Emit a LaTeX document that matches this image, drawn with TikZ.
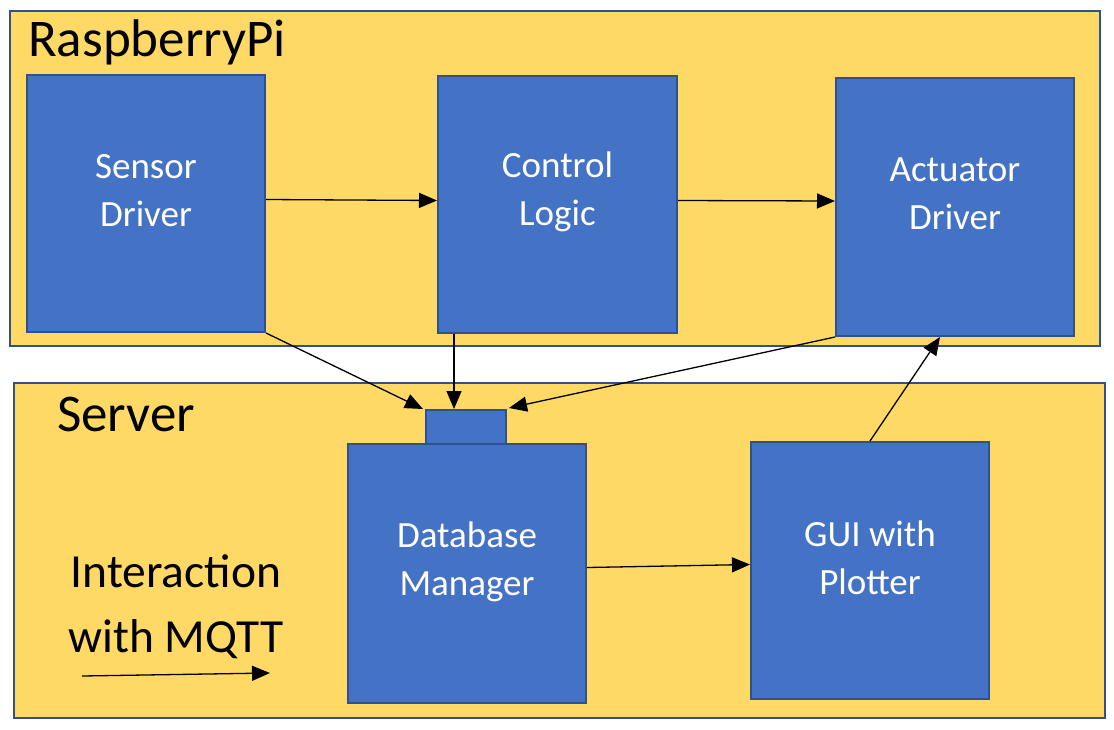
\documentclass[tikz,border=0pt]{standalone}
\usepackage{fontspec}
\setmainfont{Carlito}
\usetikzlibrary{arrows.meta,calc}
\definecolor{frame}{HTML}{2F528F}
\definecolor{gold}{HTML}{FFD966}
\definecolor{blu}{HTML}{4472C4}
\tikzset{
  area/.style={draw=frame, fill=gold, line width=2pt, inner sep=0pt},
  blk/.style={draw=frame, fill=blu, line width=2pt, inner sep=0pt},
  lbl/.style={text=white, align=center, font=\fontsize{37}{48}\selectfont},
  ttl/.style={text=black, font=\fontsize{53}{60}\selectfont, anchor=west, inner sep=0pt},
  arr/.style={-{Triangle[length=18pt,width=15pt]}, line width=1.3pt, black, shorten >=0pt}
}
\begin{document}
\begin{tikzpicture}[x=1pt,y=-1pt]
\useasboundingbox (0,0) rectangle (1114,729);
% areas
\node[area, minimum width=1090pt, minimum height=335pt] (rp) at (555,178.5) {};
\node[area, minimum width=1091pt, minimum height=335pt] (sv) at (559.5,550.5) {};
\node[ttl] (rpt) at (28,42) {RaspberryPi};
\node[ttl] (svt) at (57,414) {Server};
\node[ttl, align=center, anchor=center, font=\fontsize{47.5}{65}\selectfont] (leg) at (176,607) {Interaction\\with MQTT};
% blocks
\node[blk, minimum width=238pt, minimum height=257pt, label={[lbl,yshift=13pt]center:Sensor\\Driver}] (sd) at (146,203.5) {};
\node[blk, minimum width=239pt, minimum height=257pt, label={[lbl,yshift=13pt]center:Control\\Logic}] (cl) at (557.5,204.5) {};
\node[blk, minimum width=238pt, minimum height=258pt, label={[lbl,yshift=13pt]center:Actuator\\Driver}] (ad) at (955,207) {};
\node[blk, minimum width=80pt, minimum height=34pt] (tab) at (466,427) {};
\node[blk, minimum width=238pt, minimum height=259pt, label={[lbl,yshift=12pt]center:Database\\Manager}] (db) at (467,573.5) {};
\node[blk, minimum width=238pt, minimum height=257pt, label={[lbl,yshift=13pt]center:GUI with\\Plotter}] (gui) at (870,570.5) {};
% arrows
\draw[arr] ($(sd.east)+(0,-4)$) -- ($(cl.west)+(0,-4)$);
\draw[arr] ($(cl.east)+(0,-4)$) -- ($(ad.west)+(0,-6)$);
\draw[arr] (sd.south east) -- ($(tab.north west)+(-2,0)$);
\draw[arr] ($(cl.south west)+(17,0)$) -- ($(tab.north west)+(29,0)$);
\draw[arr] (ad.south west) -- ($(tab.north east)+(2,-1)$);
\draw[arr] ($(db.east)+(0,-6)$) -- ($(gui.west)+(0,-6)$);
\draw[arr] (gui.north) -- ($(ad.south)+(-15,0)$);
\coordinate (l1) at (82,676);
\coordinate (l2) at (270,673);
\draw[arr] (l1) -- (l2);
\end{tikzpicture}
\end{document}
